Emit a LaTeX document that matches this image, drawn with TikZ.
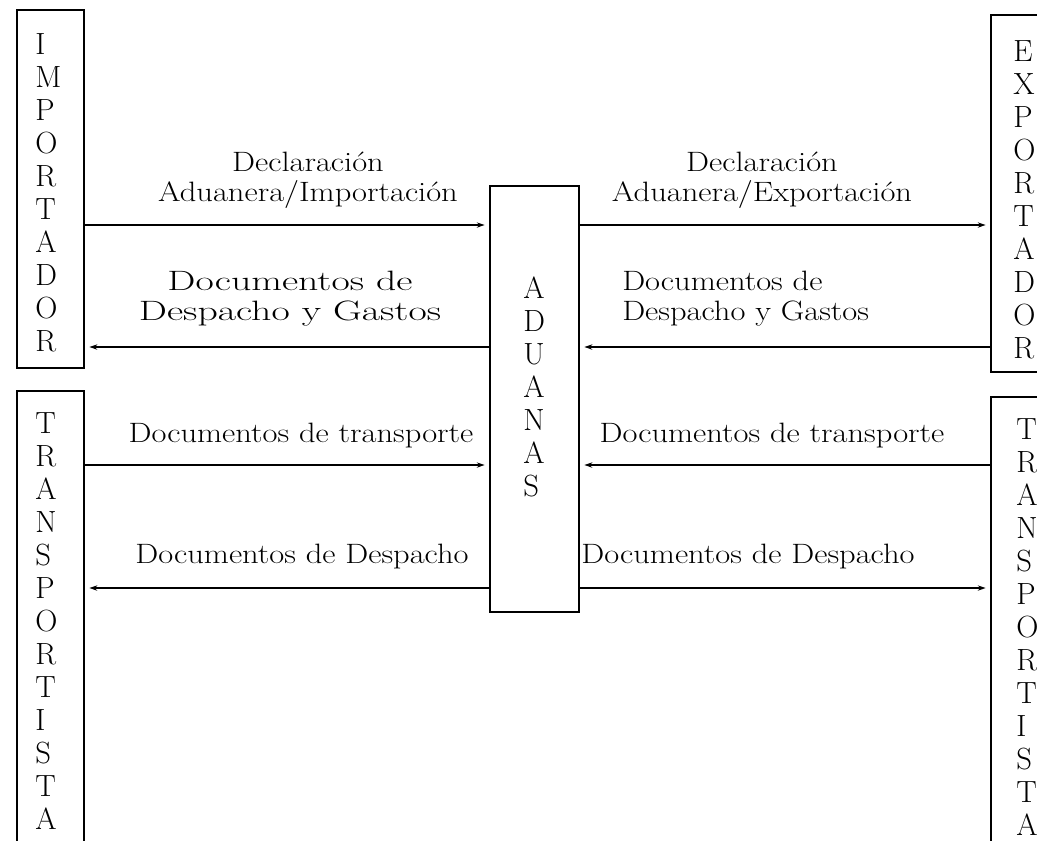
\documentclass[tikz,border=0pt]{standalone}
\usepackage{tikz}
\usepackage{graphicx}
\usetikzlibrary{arrows.meta}
\usetikzlibrary{positioning}
\newcommand{\ancho}[2][1.16]{\scalebox{#1}[1]{#2}}

\begin{document}
\begin{tikzpicture}[x=0.75pt,y=-0.75pt,
  caja/.style={draw,line width=1.4pt,inner sep=0pt,outer sep=0pt},
  letras/.style={inner sep=0pt,align=left,font=\fontsize{23}{24.75}\selectfont},
  texto/.style={inner sep=0pt,font=\fontsize{21}{22.5}\selectfont},
  flecha/.style={line width=1.1pt,-{Stealth[length=6pt,width=4pt]},shorten >=4pt}]
  \useasboundingbox (0,0) rectangle (1037,840);
  \clip (0,0) rectangle (1037,840);
  \node[caja,minimum width=50.25pt,minimum height=268.5pt] (imp) at (50.5,189){};
  \node[caja,minimum width=50.25pt,minimum height=344.25pt] (tra1) at (50.5,620.5){};
  \node[caja,minimum width=66.75pt,minimum height=319.5pt] (adu) at (534.5,399){};
  \node[caja,minimum width=50.25pt,minimum height=267.75pt] (exp) at (1024.5,193.5){};
  \node[caja,minimum width=50.25pt,minimum height=347.25pt] (tra2) at (1024.5,628.5){};
  \node[letras,anchor=north west] (timp) at (35,33){I\\M\\P\\O\\R\\T\\A\\D\\O\\R};
  \node[letras,anchor=north west] (ttra1) at (35,412){T\\R\\A\\N\\S\\P\\O\\R\\T\\I\\S\\T\\A};
  \node[letras,anchor=north west] (tadu) at (523,277){A\\D\\U\\A\\N\\A\\S};
  \node[letras,anchor=north west] (texp) at (1013,40){E\\X\\P\\O\\R\\T\\A\\D\\O\\R};
  \node[letras,anchor=north west] (ttra2) at (1016,418){T\\R\\A\\N\\S\\P\\O\\R\\T\\I\\S\\T\\A};
  \coordinate (d1) at (0,225);
  \coordinate (d2) at (0,347);
  \coordinate (d3) at (0,465);
  \coordinate (d4) at (0,588);
  \draw[flecha](imp.east|-d1)--(adu.west|-d1);
  \draw[flecha](adu.west|-d2)--(imp.east|-d2);
  \draw[flecha](adu.east|-d1)--(exp.west|-d1);
  \draw[flecha](exp.west|-d2)--(adu.east|-d2);
  \draw[flecha](tra1.east|-d3)--(adu.west|-d3);
  \draw[flecha](adu.west|-d4)--(tra1.east|-d4);
  \draw[flecha](tra2.west|-d3)--(adu.east|-d3);
  \draw[flecha](adu.east|-d4)--(tra2.west|-d4);
  \node[texto,align=center,anchor=north] (l1) at (308,152){\ancho{Declaración}\\\ancho{Aduanera/Importación}};
  \node[texto,align=center,anchor=north] (l2) at (290,271){\ancho[1.42]{Documentos de}\\\ancho[1.42]{Despacho y Gastos}};
  \node[texto,align=center,anchor=north] (r1) at (762,152){\ancho{Declaración}\\\ancho{Aduanera/Exportación}};
  \node[texto,align=left,anchor=north west] (r2) at (622,271){\ancho{Documentos de}\\\ancho{Despacho y Gastos}};
  \node[texto,anchor=base] (l3) at (301,442){\ancho{Documentos de transporte}};
  \node[texto,anchor=base] (l4) at (302,563){\ancho{Documentos de Despacho}};
  \node[texto,anchor=base] (r3) at (772,442){\ancho{Documentos de transporte}};
  \node[texto,anchor=base] (r4) at (748,563){\ancho{Documentos de Despacho}};
\end{tikzpicture}
\end{document}
